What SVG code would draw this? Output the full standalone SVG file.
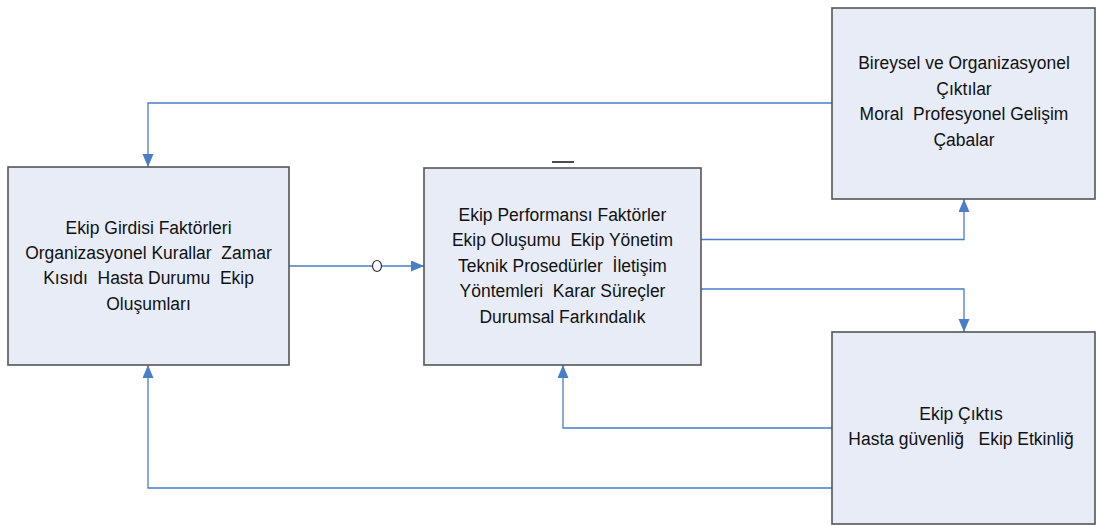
<svg xmlns="http://www.w3.org/2000/svg" width="1097" height="526" viewBox="0 0 1097 526">
  <style>
    .box { fill: #E7ECF7; stroke: #555; stroke-width: 1.6; }
    .lbl { font-family: "Liberation Sans", Arial, sans-serif; font-size: 19px; fill: #111; text-anchor: middle; white-space: pre; }
    .conn { fill: none; stroke: #4A7CC7; stroke-width: 1.3; }
  </style>
  <defs>
    <marker id="arrow" markerUnits="userSpaceOnUse" markerWidth="14" markerHeight="12" refX="13" refY="5.5" orient="auto">
      <path d="M0,0 L13,5.5 L0,11 z" fill="#4A7CC7"/>
    </marker>
  </defs>
  <rect width="1097" height="526" fill="#fff"/>

  <!-- connectors -->
  <g id="connectors">
    <polyline class="conn" points="832,103 148,103 148,167" marker-end="url(#arrow)"/>
    <polyline class="conn" points="289,266 424,266" marker-end="url(#arrow)"/>
    <ellipse cx="377" cy="266" rx="4.5" ry="5.5" fill="#fff" stroke="#333" stroke-width="1.2"/>
    <polyline class="conn" points="701,239.5 964,239.5 964,199" marker-end="url(#arrow)"/>
    <polyline class="conn" points="701,289 964,289 964,332" marker-end="url(#arrow)"/>
    <polyline class="conn" points="832,428 563,428 563,365" marker-end="url(#arrow)"/>
    <polyline class="conn" points="832,488 148,488 148,365" marker-end="url(#arrow)"/>
  </g>

  <!-- input factors -->
  <g id="node-input">
    <rect class="box" x="8" y="167" width="281" height="198"/>
    <g transform="translate(148.5,0) scale(0.92,1)">
      <text class="lbl" x="0" y="234">Ekip Girdisi Faktörleri</text>
      <text class="lbl" x="0" y="259">Organizasyonel Kurallar  Zamar</text>
      <text class="lbl" x="0" y="284.5">Kısıdı  Hasta Durumu  Ekip</text>
      <text class="lbl" x="0" y="310">Oluşumları</text>
    </g>
  </g>

  <!-- performance factors -->
  <g id="node-performance">
    <line x1="552" y1="162" x2="574" y2="162" stroke="#111" stroke-width="1.5"/>
    <rect class="box" x="424" y="168" width="277" height="197"/>
    <g transform="translate(562.5,0) scale(0.92,1)">
      <text class="lbl" x="0" y="221">Ekip Performansı Faktörler</text>
      <text class="lbl" x="0" y="246.5">Ekip Oluşumu  Ekip Yönetim</text>
      <text class="lbl" x="0" y="272">Teknik Prosedürler  İletişim</text>
      <text class="lbl" x="0" y="297.5">Yöntemleri  Karar Süreçler</text>
      <text class="lbl" x="0" y="323">Durumsal Farkındalık</text>
    </g>
  </g>

  <!-- individual and organisational outputs -->
  <g id="node-org-output">
    <rect class="box" x="832" y="8" width="263" height="191"/>
    <g transform="translate(964,0) scale(0.92,1)">
      <text class="lbl" x="0" y="69">Bireysel ve Organizasyonel</text>
      <text class="lbl" x="0" y="95">Çıktılar</text>
      <text class="lbl" x="0" y="120">Moral  Profesyonel Gelişim</text>
      <text class="lbl" x="0" y="146">Çabalar</text>
    </g>
  </g>

  <!-- team outputs -->
  <g id="node-team-output">
    <rect class="box" x="832" y="332" width="263" height="192"/>
    <g transform="translate(961,0) scale(0.92,1)">
      <text class="lbl" x="0" y="420">Ekip Çıktıs</text>
      <text class="lbl" x="0" y="445">Hasta güvenliğ   Ekip Etkinliğ</text>
    </g>
  </g>
</svg>
